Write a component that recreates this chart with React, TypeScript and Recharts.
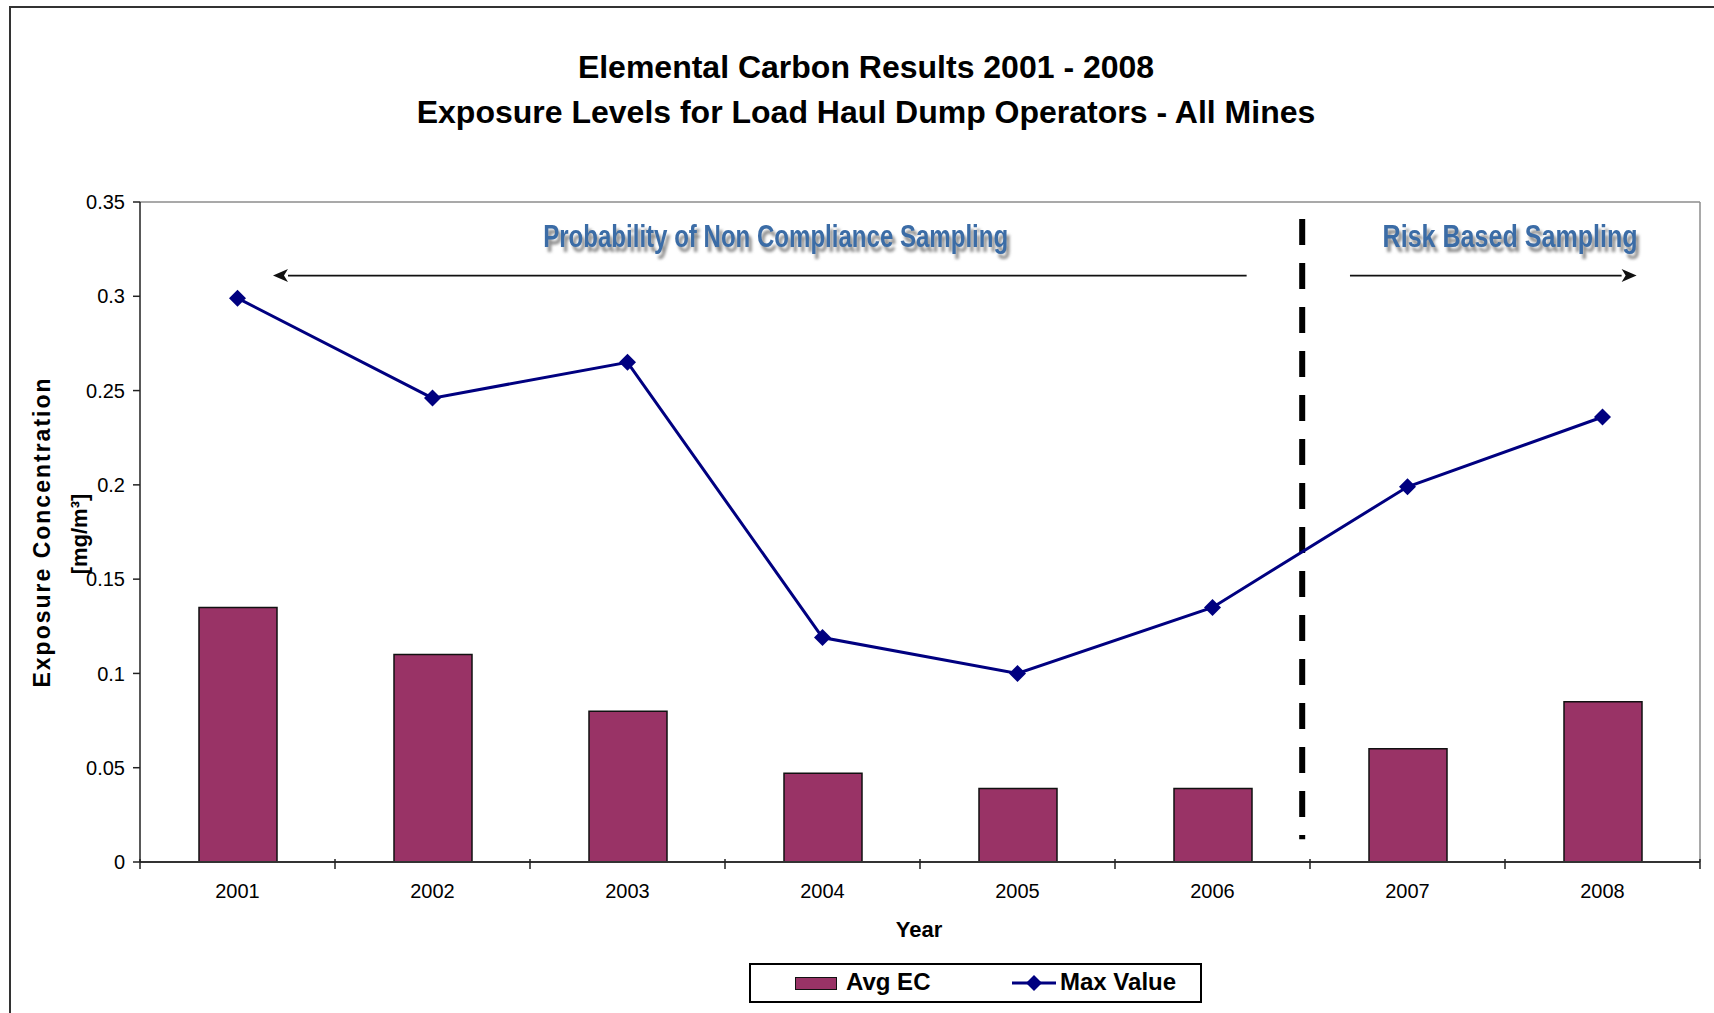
import React from "react";
import { ComposedChart, Bar, Line, XAxis, YAxis, ReferenceLine, ReferenceDot } from "recharts";

const years = ["2001", "2002", "2003", "2004", "2005", "2006", "2007", "2008"];
const avgEC = [0.135, 0.11, 0.08, 0.047, 0.039, 0.039, 0.06, 0.085];
const maxValue = [0.299, 0.246, 0.265, 0.119, 0.1, 0.135, 0.199, 0.236];
const yTicks = [0, 0.05, 0.1, 0.15, 0.2, 0.25, 0.3, 0.35];

// annotations, in category units (0..8) on a hidden numeric x axis
const dividerX = 5.96;
const dividerRange = [0.341, 0.012];
const phaseArrows = [
  { from: 5.675, to: 0.682, y: 0.311 },
  { from: 6.205, to: 7.675, y: 0.311 },
];
const phaseLabels = [
  { text: "Probability of Non Compliance Sampling", x: 3.26, y: 0.3262, len: 465 },
  { text: "Risk Based Sampling", x: 7.026, y: 0.3262, len: 255 },
];

const data = years.map((year, i) => ({ year, pos: i + 0.5, avg: avgEC[i], max: maxValue[i] }));

const W = 1714;
const H = 1013;
const FONT = '"Liberation Sans", Arial, sans-serif';
const BAR_FILL = "#993366";
const LINE_COLOR = "#000080";

const XTick = (props: any) => {
  const { x, y, payload, index } = props;
  const half = payload && payload.offset ? payload.offset : 97.5;
  return (
    <g>
      {index === 0 && <line x1={x - half} x2={x - half} y1={y - 3} y2={y + 7} stroke="#222" strokeWidth={1.5} />}
      <line x1={x + half} x2={x + half} y1={y - 3} y2={y + 7} stroke="#222" strokeWidth={1.5} />
      <text x={x} y={y + 36} textAnchor="middle" fontSize={20} fontFamily={FONT} fill="#000">
        {payload.value}
      </text>
    </g>
  );
};

const Diamond = (props: any) => {
  const { cx, cy, index } = props;
  if (cx == null || cy == null) return null;
  const r = 8.5;
  return (
    <polygon
      key={`d-${index}`}
      points={`${cx},${cy - r} ${cx + r},${cy} ${cx},${cy + r} ${cx - r},${cy}`}
      fill={LINE_COLOR}
    />
  );
};

const Arrow = (props: any) => {
  const { x1, y1, x2, y2 } = props;
  const dir = Math.sign(x2 - x1);
  const head = 15;
  const hw = 6.5;
  return (
    <g>
      <line x1={x1} y1={y1} x2={x2 - dir * head} y2={y2} stroke="#111" strokeWidth={1.7} />
      <polygon
        points={`${x2},${y2} ${x2 - dir * head},${y2 - hw} ${x2 - dir * (head - 4)},${y2} ${x2 - dir * head},${y2 + hw}`}
        fill="#111"
      />
    </g>
  );
};

const PhaseLabel = (text: string, len: number) => (props: any) => {
  const { cx, cy } = props;
  return (
    <text
      x={cx}
      y={cy}
      textAnchor="middle"
      fontSize={31}
      fontWeight="bold"
      fontFamily={FONT}
      textLength={len}
      lengthAdjust="spacingAndGlyphs"
      fill="#3b6ca6"
      style={{ filter: "drop-shadow(3px 5px 1.5px rgba(120,120,120,0.85))" }}
    >
      {text}
    </text>
  );
};

export default function App() {
  return (
    <div
      style={{
        position: "absolute",
        left: 0,
        top: 0,
        width: W,
        height: H,
        overflow: "hidden",
        background: "#fff",
        fontFamily: FONT,
      }}
    >
      <div
        style={{
          position: "absolute",
          left: 9,
          top: 6,
          width: 1800,
          height: 1100,
          border: "2px solid #333",
        }}
      />
      <div style={{ position: "absolute", left: 0, top: 0 }}>
        <ComposedChart
          width={W}
          height={H}
          data={data}
          margin={{ top: 202, right: 14, bottom: 101, left: 60 }}
        >
          <XAxis
            xAxisId="cat"
            dataKey="year"
            tick={<XTick />}
            tickLine={false}
            tickSize={0}
            tickMargin={0}
            height={50}
            stroke="#333"
            strokeWidth={2}
            interval={0}
          />
          <XAxis xAxisId="num" dataKey="pos" type="number" domain={[0, 8]} allowDataOverflow hide />
          <YAxis
            domain={[0, 0.35]}
            ticks={yTicks}
            width={80}
            tickSize={7}
            tickMargin={8}
            stroke="#222"
            strokeWidth={1.5}
            tick={{ fontSize: 20, fontFamily: FONT, fill: "#000" }}
            interval={0}
          />
          <ReferenceLine xAxisId="num" y={0.35} stroke="#8c8c8c" strokeWidth={1.5} />
          <ReferenceLine xAxisId="num" x={8} stroke="#8c8c8c" strokeWidth={1.5} />
          <Bar
            xAxisId="cat"
            dataKey="avg"
            name="Avg EC"
            fill={BAR_FILL}
            stroke="#111"
            strokeWidth={1.5}
            barSize={78}
            isAnimationActive={false}
          />
          <ReferenceLine
            xAxisId="num"
            segment={[
              { x: dividerX, y: dividerRange[0] },
              { x: dividerX, y: dividerRange[1] },
            ]}
            stroke="#000"
            strokeWidth={6}
            strokeDasharray="26 18"
          />
          {phaseArrows.map((a, i) => (
            <ReferenceLine
              key={`arrow-${i}`}
              xAxisId="num"
              segment={[
                { x: a.from, y: a.y },
                { x: a.to, y: a.y },
              ]}
              shape={Arrow}
            />
          ))}
          {phaseLabels.map((l, i) => (
            <ReferenceDot
              key={`lab-${i}`}
              xAxisId="num"
              x={l.x}
              y={l.y}
              r={1}
              shape={PhaseLabel(l.text, l.len)}
            />
          ))}
          <Line
            xAxisId="cat"
            dataKey="max"
            name="Max Value"
            stroke={LINE_COLOR}
            strokeWidth={3}
            dot={Diamond}
            activeDot={false}
            isAnimationActive={false}
          />
        </ComposedChart>
      </div>

      <svg width={W} height={H} style={{ position: "absolute", left: 0, top: 0, pointerEvents: "none" }}>
        <text x={866} y={78} textAnchor="middle" fontSize={32} fontWeight="bold" fontFamily={FONT} fill="#000">
          Elemental Carbon Results 2001 - 2008
        </text>
        <text x={866} y={123} textAnchor="middle" fontSize={32} fontWeight="bold" fontFamily={FONT} fill="#000">
          Exposure Levels for Load Haul Dump Operators - All Mines
        </text>
        <text
          x={50}
          y={532}
          transform="rotate(-90 50 532)"
          textAnchor="middle"
          fontSize={23}
          fontWeight="bold"
          letterSpacing={2}
          fontFamily={FONT}
          fill="#000"
        >
          Exposure Concentration
        </text>
        <text
          x={87}
          y={534}
          transform="rotate(-90 87 534)"
          textAnchor="middle"
          fontSize={22}
          fontWeight="bold"
          fontFamily={FONT}
          fill="#000"
        >
          [mg/m³]
        </text>
        <text x={919} y={937} textAnchor="middle" fontSize={22} fontWeight="bold" fontFamily={FONT} fill="#000">
          Year
        </text>
      </svg>

      <div
        style={{
          position: "absolute",
          left: 749,
          top: 963,
          width: 449,
          height: 36,
          border: "2px solid #000",
          background: "#fff",
        }}
      >
        <div
          style={{
            position: "absolute",
            left: 44,
            top: 12,
            width: 40,
            height: 11,
            background: BAR_FILL,
            border: "1.5px solid #111",
          }}
        />
        <div
          style={{
            position: "absolute",
            left: 95,
            top: 3,
            fontSize: 24,
            fontWeight: "bold",
            fontFamily: FONT,
            lineHeight: "28px",
          }}
        >
          Avg EC
        </div>
        <svg style={{ position: "absolute", left: 260, top: 6 }} width={46} height={24}>
          <line x1={1} y1={12} x2={45} y2={12} stroke={LINE_COLOR} strokeWidth={3} />
          <polygon points="23,4 31,12 23,20 15,12" fill={LINE_COLOR} />
        </svg>
        <div
          style={{
            position: "absolute",
            left: 309,
            top: 3,
            fontSize: 24,
            fontWeight: "bold",
            fontFamily: FONT,
            lineHeight: "28px",
          }}
        >
          Max Value
        </div>
      </div>
    </div>
  );
}
